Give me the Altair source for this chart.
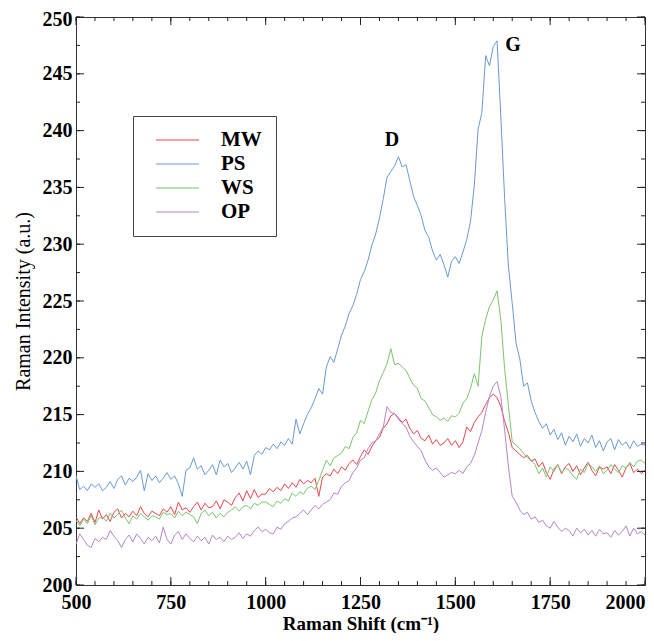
import altair as alt
import pandas as pd

# ---------------- data ----------------
shift = list(range(500, 2001, 10))

ps = [
    209.6, 208.4, 208.7, 208.3, 208.9, 208.6, 208.9, 208.3, 208.6, 209.1,
    208.5, 209.3, 209.6, 208.8, 209.4, 209.1, 209.5, 210.1, 208.3, 209.8,
    209.2, 209.6, 209.0, 209.4, 209.9, 209.3, 209.6, 208.9, 207.8, 210.1,
    210.3, 211.2, 210.2, 210.5, 209.7, 210.1, 210.6, 209.7, 211.0, 210.4,
    210.7, 209.9, 210.3, 210.8, 210.2, 210.9, 209.7, 211.4, 211.8, 211.5,
    212.1, 211.9, 212.4, 212.0, 212.6, 212.3, 212.9, 212.4, 214.6, 213.3,
    214.2, 215.0, 215.6, 216.4, 217.3, 216.8, 219.2, 220.1, 219.6, 220.8,
    222.0, 222.8, 223.9, 224.6, 225.6, 226.9, 227.6, 228.6, 229.9, 230.9,
    232.3, 234.0, 235.9, 236.4, 236.9, 237.7, 236.8, 237.0, 235.6, 234.2,
    233.4, 232.5, 231.2, 230.6, 229.4, 228.6, 229.1, 228.2, 227.1, 228.5,
    228.9, 228.3, 229.3, 230.4, 232.0, 235.2, 240.1, 241.6, 246.6, 245.7,
    247.4, 247.9, 241.2, 234.0, 228.0, 224.8, 221.3, 219.9, 217.5, 217.8,
    216.2, 215.2, 214.4, 213.8, 214.2, 213.2, 213.7, 212.8, 213.4, 212.3,
    213.1, 212.6, 213.3, 212.2, 212.9, 212.5, 213.2, 212.1, 212.7, 211.8,
    212.6, 212.9, 211.9, 212.8, 212.3, 212.6, 212.0, 212.7, 212.2, 212.4,
    212.3,
]

mw = [
    206.0, 205.4, 205.9, 205.6, 206.3, 205.5, 206.6, 205.8, 206.2, 205.6,
    206.4, 206.7, 205.9, 206.3, 206.0, 206.5, 206.1, 206.9, 206.3, 206.0,
    206.5, 206.3, 206.1, 206.7, 206.4, 206.9, 206.2, 207.3, 206.6, 206.8,
    206.4, 206.9, 207.3, 206.6, 207.2, 206.8, 206.9, 207.4, 206.7, 207.5,
    207.3, 207.0, 207.7, 208.1, 207.4, 208.3, 207.6, 208.4, 207.7, 208.0,
    208.0, 208.5, 208.2, 208.6, 208.3, 208.9, 208.5, 209.0, 208.6, 209.3,
    208.9, 209.2, 209.0, 209.4, 207.8, 209.5, 209.8, 209.6, 210.2, 209.8,
    210.4, 210.1, 210.7, 211.0, 210.6, 211.3, 211.9, 211.5, 212.2, 212.7,
    213.0, 213.8, 214.2, 214.9, 215.1, 214.7, 214.3, 214.6, 213.8, 213.3,
    213.6, 212.9, 212.7, 213.2, 212.4, 212.8, 212.3, 212.5, 212.9, 212.3,
    212.7, 212.1, 212.6, 213.9, 213.5, 214.3, 214.8, 215.2, 215.9, 216.5,
    216.8, 216.5, 215.7, 214.4, 213.4, 212.1, 211.8, 211.5, 211.2, 211.4,
    210.9, 211.1, 210.4, 210.8, 209.9, 209.3, 210.2, 210.6, 209.8, 210.4,
    210.7, 210.0, 210.5, 209.7, 210.3, 210.8, 210.1, 209.6, 210.4, 210.2,
    210.4, 209.8, 210.6, 210.1, 209.5, 210.3, 210.7, 209.9, 210.2, 209.8,
    210.1,
]

ws = [
    205.7, 205.2, 205.8, 205.4, 206.1, 205.3, 205.9, 206.0, 205.6, 206.3,
    205.9, 206.2, 206.6, 205.9, 205.4, 206.1, 205.8, 206.3, 206.0, 205.7,
    206.1, 206.0, 205.8, 206.4, 206.2, 206.3, 205.9, 206.5, 206.1, 206.4,
    206.2, 206.0, 205.4, 206.3, 206.6, 206.1, 206.4, 205.9, 206.3, 206.0,
    206.4, 206.6, 206.9, 206.5, 206.9, 207.0, 206.7, 207.2, 207.0, 207.3,
    207.3, 207.1, 206.9, 207.4, 207.2, 207.6, 207.4, 208.1, 207.8, 208.2,
    208.0, 208.5, 208.7, 208.4, 209.2, 210.1, 211.0, 210.5, 211.2, 211.4,
    211.6, 212.2, 212.0, 213.0, 213.4, 214.5, 214.2, 215.3, 216.3, 216.9,
    218.0, 218.7, 219.5, 220.8, 219.4, 219.5, 219.2, 218.9, 218.2, 217.6,
    217.3, 216.4, 216.2, 215.6, 215.0, 214.8, 214.5, 214.7, 214.4, 214.9,
    214.8, 215.1, 216.0, 216.4, 217.3, 218.6, 217.5, 221.9, 223.4, 224.5,
    225.1, 225.9, 223.3, 219.0, 215.8, 212.6, 212.3, 212.0, 211.6, 211.2,
    211.0, 210.6, 209.8, 210.3, 209.5, 210.4, 210.0, 210.6, 209.9, 210.3,
    210.1, 209.6, 209.3, 210.2, 209.9, 210.7, 210.4, 210.0, 210.5, 209.8,
    210.1, 210.6, 210.2, 209.9, 210.5, 210.3, 210.8, 210.4, 210.9, 211.0,
    210.7,
]

op = [
    203.6, 204.5, 204.0, 203.5, 203.3, 204.1, 203.8, 204.2, 204.0, 204.8,
    204.3, 203.9, 203.3, 204.0, 204.4, 203.8, 204.5, 204.1, 203.6, 204.2,
    203.9, 204.3, 203.7, 205.1, 204.0, 203.6, 204.4, 204.7, 204.0, 204.5,
    204.1, 203.8, 204.3, 203.9, 204.2, 203.6, 204.4, 204.0, 204.2, 203.8,
    204.3, 204.0, 204.2, 204.6, 204.1, 204.5, 204.3, 204.8, 205.1, 204.7,
    204.9, 204.6, 204.5, 205.1, 204.9, 205.4, 205.6, 205.9, 206.0, 206.3,
    206.6, 206.2, 206.6, 207.0, 206.7, 207.1, 207.3, 207.5, 208.1, 208.0,
    208.7, 209.0, 209.2, 209.9, 210.3, 211.0, 211.2, 212.0, 212.5, 212.7,
    213.3, 213.9, 215.7, 215.2, 215.1, 214.6, 214.2, 213.9, 213.1, 212.6,
    212.2, 211.8, 211.0, 210.4, 210.1, 210.3, 209.9, 209.5, 209.7, 209.9,
    209.8, 210.1, 209.8, 210.4, 210.7, 211.4, 212.5, 213.6, 215.2, 216.6,
    217.5, 217.9, 216.6, 213.6, 210.4, 207.8, 207.3, 206.6, 206.2, 206.4,
    205.8, 206.0, 205.5, 205.7, 205.2, 205.0, 205.6, 205.1, 204.7, 205.0,
    204.8, 204.3, 205.0, 204.6, 204.9, 204.4, 204.8, 204.3, 204.9, 204.5,
    204.6, 204.2, 204.8, 204.4, 204.7, 205.2, 204.3, 205.0, 204.5, 204.7,
    204.4,
]

series_names = ["MW", "PS", "WS", "OP"]
series_colors = ["#e8474c", "#6b9bd1", "#7cc46e", "#b585c9"]

peak_labels = ["D", "G"]
peak_x = [1333, 1652]
peak_y = [239.2, 247.5]

x_major = [500, 750, 1000, 1250, 1500, 1750, 2000]
x_minor = list(range(500, 2001, 50))
y_major = [200, 205, 210, 215, 220, 225, 230, 235, 240, 245, 250]
y_minor = [200 + 2.5 * k for k in range(21)]

for s in (ps, mw, ws, op):
    assert len(s) == len(shift), len(s)

# ---------------- build tables ----------------
rows = []
for name, vals in zip(series_names, [mw, ps, ws, op]):
    for xv, yv in zip(shift, vals):
        rows.append({"shift": xv, "intensity": yv, "sample": name})
df = pd.DataFrame(rows)
df_peaks = pd.DataFrame({"label": peak_labels, "shift": peak_x, "intensity": peak_y})
df_xmaj = pd.DataFrame({"shift": x_major})
df_xmin = pd.DataFrame({"shift": x_minor})
df_ymaj = pd.DataFrame({"intensity": y_major})
df_ymin = pd.DataFrame({"intensity": y_minor})

FONT = "Liberation Serif"
W, H = 569, 568
xscale = alt.Scale(domain=[500, 2000], nice=False, zero=False)
yscale = alt.Scale(domain=[200, 250], nice=False, zero=False)
TICK = "#222222"
MAJ, MIN = 8, 4

x_axis = alt.Axis(
    orient="bottom", values=x_major, ticks=False, tickSize=0, domain=False, grid=False,
    labelFont=FONT, labelFontSize=20, labelFontWeight="bold", labelColor="black",
    labelPadding=7, format="d",
    labelAlign={"expr": "datum.value === 2000 ? 'right' : 'center'"},
    title="Raman Shift (cm\u207b\u00b9)", titleFont=FONT, titleFontSize=19,
    titleFontWeight="bold", titleColor="black", titlePadding=2)
y_axis = alt.Axis(
    orient="left", values=y_major, ticks=False, tickSize=0, domain=False, grid=False,
    labelFont=FONT, labelFontSize=20, labelFontWeight="bold", labelColor="black",
    labelPadding=4, format="d",
    labelOffset={"expr": "datum.value === 250 ? 2 : 0"},
    title="Raman Intensity (a.u.)", titleFont=FONT, titleFontSize=20,
    titleFontWeight="normal", titleColor="black", titlePadding=9)

X = alt.X("shift:Q", scale=xscale, axis=x_axis)
Y = alt.Y("intensity:Q", scale=yscale, axis=y_axis)

# main lines
lines = alt.Chart(df).mark_line(strokeWidth=1, clip=True).encode(
    x=X,
    y=Y,
    color=alt.Color("sample:N", scale=alt.Scale(domain=series_names, range=series_colors),
                    legend=alt.Legend(
                        orient="none", legendX=57, legendY=99, title=None,
                        direction="vertical",
                        symbolType="stroke", symbolSize=1849, symbolStrokeWidth=1.2,
                        clipHeight=20, rowPadding=3, symbolOffset=8, labelOffset=21,
                        labelFont=FONT, labelFontSize=21, labelFontWeight="bold",
                        labelColor="black", padding=14, strokeColor="#444444",
                        fillColor="white")),
)


# inward tick marks on all four sides (positions from the scales)
def xticks(d, y0, y1):
    return alt.Chart(d).mark_rule(color=TICK, strokeWidth=1).encode(
        x=X, y=alt.value(y0), y2=alt.value(y1))


def yticks(d, x0, x1):
    return alt.Chart(d).mark_rule(color=TICK, strokeWidth=1).encode(
        y=Y, x=alt.value(x0), x2=alt.value(x1))


tick_layers = [
    xticks(df_xmaj, H, H - MAJ), xticks(df_xmin, H, H - MIN),
    xticks(df_xmaj, 0, MAJ), xticks(df_xmin, 0, MIN),
    yticks(df_ymaj, 0, MAJ), yticks(df_ymin, 0, MIN),
    yticks(df_ymaj, W, W - MAJ), yticks(df_ymin, W, W - MIN),
]

peaks = alt.Chart(df_peaks).mark_text(
    font=FONT, fontSize=20, fontWeight="bold", color="black", align="center", baseline="middle"
).encode(x=X, y=Y, text="label:N")

chart = alt.layer(lines, *tick_layers, peaks).properties(
    width=W, height=H,
    autosize=alt.AutoSizeParams(type="none"),
    padding={"left": 68, "top": 9, "right": 1, "bottom": 48},
).configure_view(stroke="#333333", strokeWidth=1)

chart.save("out.html", embed_options={"renderer": "svg", "actions": False})
